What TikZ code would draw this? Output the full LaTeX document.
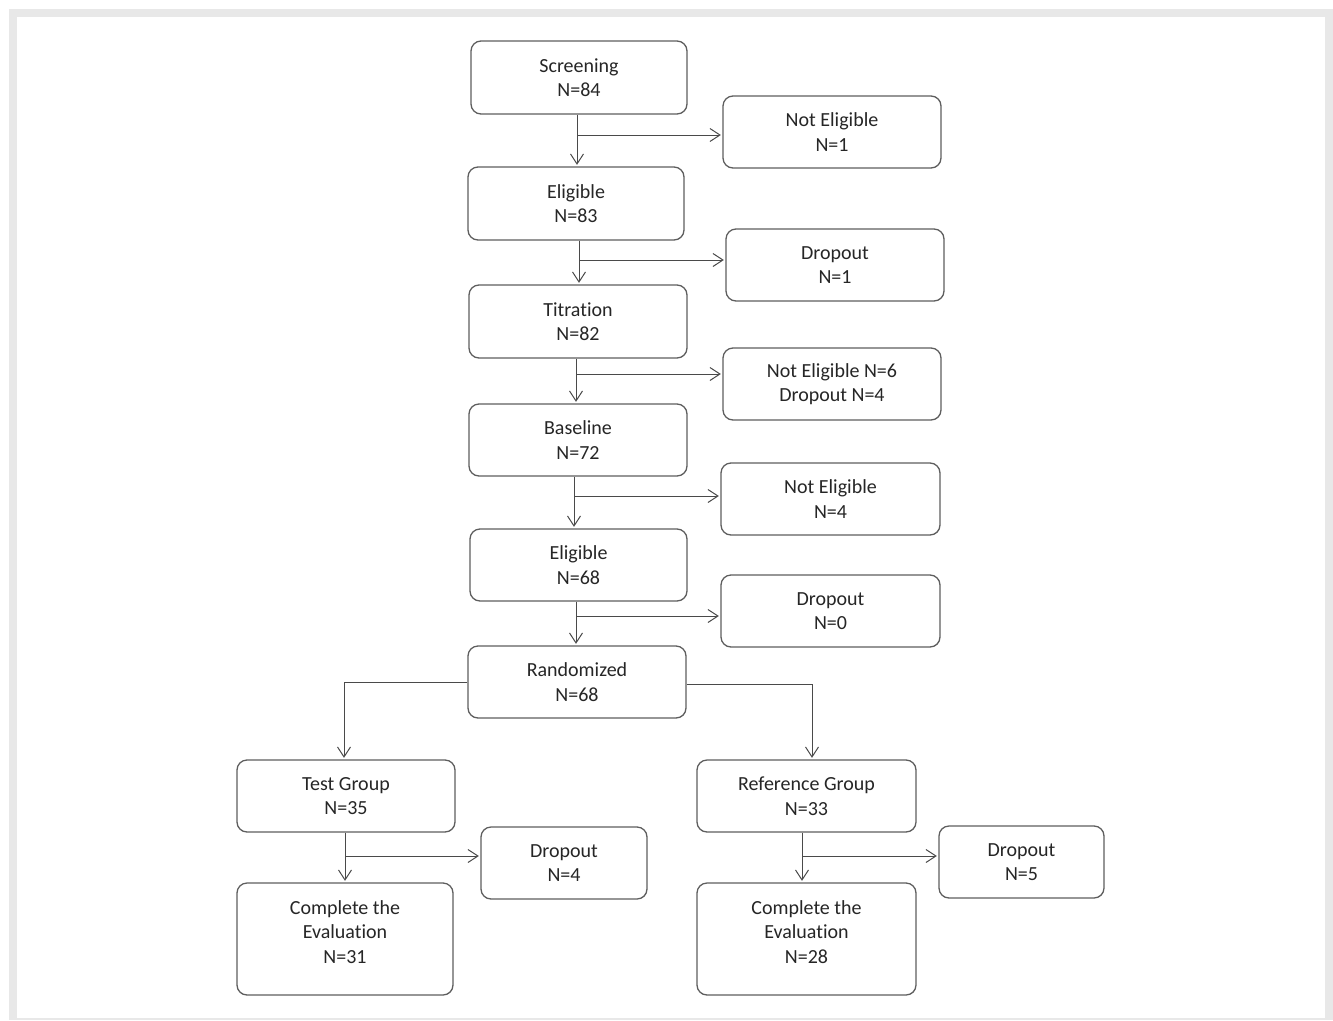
\documentclass[tikz,border=0pt]{standalone}
\usepackage{fontspec}
\setmainfont[Ligatures={NoCommon}]{Carlito}
\usetikzlibrary{arrows.meta}
\definecolor{boxc}{HTML}{5E5E5E}
\definecolor{linec}{HTML}{4A4A4A}
\definecolor{txtc}{HTML}{262626}
\definecolor{framec}{HTML}{E8E8E8}
\begin{document}
\begin{tikzpicture}[x=1pt,y=-1pt,
  box/.style={draw=boxc, line width=1.3pt, rounded corners=10pt, align=center,
    text=txtc, font=\fontsize{20}{24.5}\selectfont, inner sep=0pt},
  lbl/.style={align=center, text=txtc, font=\fontsize{20}{24.5}\selectfont, inner sep=0pt},
  arr/.style={draw=linec, line width=1pt,
    -{Straight Barb[length=10pt,width=13pt,line width=1pt]}, shorten >=1.5pt}]
% background and frame
\useasboundingbox (0,0) rectangle (1333,1020);
\fill[white] (0,0) rectangle (1333,1020);
\fill[framec] (9,9) rectangle (1333,1020);
\fill[white] (17,17) rectangle (1325,1018);

% main column
\node[box, minimum width=216pt, minimum height=73pt] (scr) at (579,77.5) {Screening\\N=84};
\node[box, minimum width=216pt, minimum height=73pt] (eli1) at (576,203.5) {Eligible\\N=83};
\node[box, minimum width=218pt, minimum height=73pt] (tit) at (578,321.5) {Titration\\N=82};
\node[box, minimum width=218pt, minimum height=72pt] (base) at (578,440) {Baseline\\N=72};
\node[box, minimum width=217pt, minimum height=72pt] (eli2) at (578.5,565) {Eligible\\N=68};
\node[box, minimum width=218pt, minimum height=72pt] (ran) at (577,682) {Randomized\\N=68};

% side boxes
\node[box, minimum width=218pt, minimum height=72pt] (ne1) at (832,132) {Not Eligible\\N=1};
\node[box, minimum width=218pt, minimum height=72pt] (do1) at (835,265) {Dropout\\N=1};
\node[box, minimum width=218pt, minimum height=72pt] (ne6) at (832,384) {Not Eligible N=6\\Dropout N=4};
\node[box, minimum width=219pt, minimum height=72pt] (ne4) at (830.5,499) {Not Eligible\\N=4};
\node[box, minimum width=219pt, minimum height=72pt] (do0) at (830.5,611) {Dropout\\N=0};

% groups
\node[box, minimum width=218pt, minimum height=72pt] (test) at (346,796) {Test Group\\N=35};
\node[box, minimum width=219pt, minimum height=72pt] (ref) at (806.5,796) {Reference Group\\N=33};
\node[box, minimum width=166pt, minimum height=72pt] (do4) at (564,863) {Dropout\\N=4};
\node[box, minimum width=165pt, minimum height=72pt] (do5) at (1021.5,862) {Dropout\\N=5};
\node[box, minimum width=216pt, minimum height=112pt,
  label={[lbl, yshift=7pt]center:{Complete the\\Evaluation\\N=31}}] (ct) at (345,939) {};
\node[box, minimum width=219pt, minimum height=112pt,
  label={[lbl, yshift=7pt]center:{Complete the\\Evaluation\\N=28}}] (cr) at (806.5,939) {};

% branch points
\coordinate (b1) at (577,135);
\coordinate (b2) at (579,260);
\coordinate (b3) at (576,374);
\coordinate (b4) at (574,496);
\coordinate (b5) at (576,616);
\coordinate (b6) at (345,856);
\coordinate (b7) at (802,856);

% vertical flow
\draw[arr] (scr.south -| b1) -- (eli1.north -| b1);
\draw[arr] (eli1.south -| b2) -- (tit.north -| b2);
\draw[arr] (tit.south -| b3) -- (base.north -| b3);
\draw[arr] (base.south -| b4) -- (eli2.north -| b4);
\draw[arr] (eli2.south -| b5) -- (ran.north -| b5);
\draw[arr] (test.south -| b6) -- (ct.north -| b6);
\draw[arr] (ref.south -| b7) -- (cr.north -| b7);

% side branches
\draw[arr] (b1) -- (b1 -| ne1.west);
\draw[arr] (b2) -- (b2 -| do1.west);
\draw[arr] (b3) -- (b3 -| ne6.west);
\draw[arr] (b4) -- (b4 -| ne4.west);
\draw[arr] (b5) -- (b5 -| do0.west);
\draw[arr] (b6) -- (b6 -| do4.west);
\draw[arr] (b7) -- (b7 -| do5.west);

% randomization split
\draw[arr] (ran.west) -| ([xshift=-2pt]test.north);
\draw[arr] ([yshift=-2pt]ran.east) -| ([xshift=5.5pt]ref.north);
\end{tikzpicture}
\end{document}
